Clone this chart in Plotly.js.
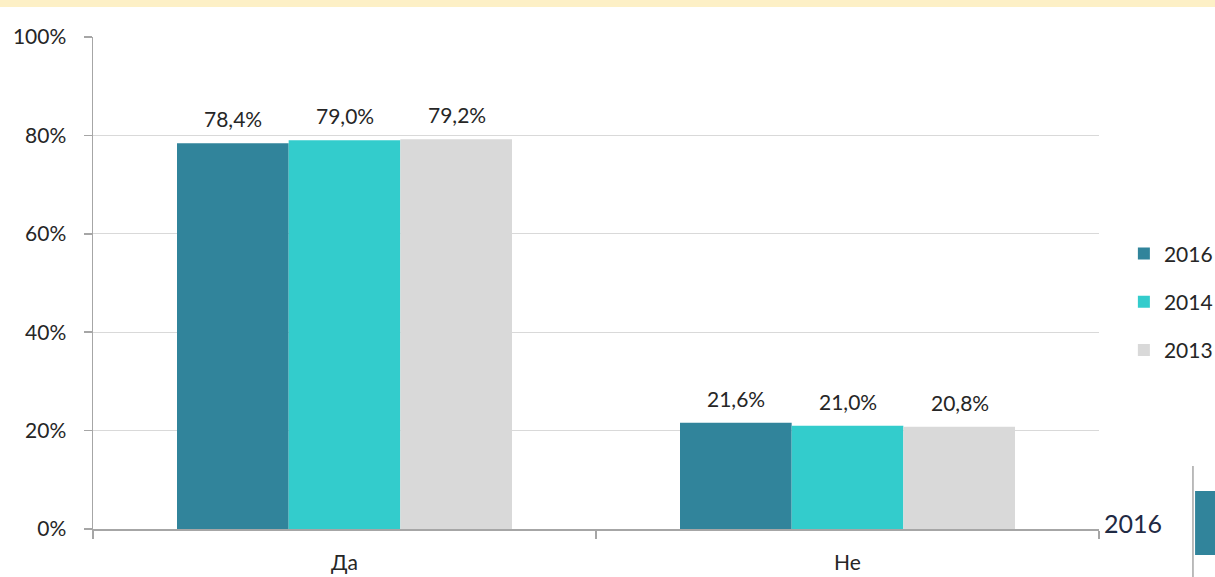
<!DOCTYPE html>
<html>
<head>
<meta charset="utf-8">
<script src="https://cdn.plot.ly/plotly-3.0.1.min.js"></script>
<style>html,body{margin:0;padding:0;background:#fff;}#chart{width:1215px;height:577px;}</style>
</head>
<body>
<div id="chart"></div>
<script>
const categories = ["Да", "Не"];
const seriesNames = ["2016", "2014", "2013"];
const values2016 = [78.4, 21.6];
const values2014 = [79.0, 21.0];
const values2013 = [79.2, 20.8];
const yTickValues = [0, 20, 40, 60, 80, 100];
const yTickLabels = ["0%", "20%", "40%", "60%", "80%", "100%"];
const colors = ["#31849b", "#33cccc", "#d9d9d9"];

const allSeries = [values2016, values2014, values2013];
const fontFam = "Lato, 'Open Sans', 'Noto Sans', sans-serif";
const fmt = v => v.toFixed(1).replace('.', ',') + '%';

const traces = allSeries.map((vals, i) => ({
  type: 'bar',
  name: seriesNames[i],
  x: categories,
  y: vals,
  marker: {color: colors[i], line: {width: 0}},
  legendgroup: 'g' + i,
  hoverinfo: 'x+y+name'
}));

const annotations = [];
allSeries.forEach((vals, i) => {
  vals.forEach((v, j) => {
    annotations.push({
      x: categories[j], y: v, xref: 'x', yref: 'y',
      text: fmt(v), showarrow: false,
      xshift: (i - 1) * 112, yanchor: 'bottom', yshift: 10,
      font: {family: fontFam, size: 21, color: '#262626'}
    });
  });
});
annotations.push({
  xref: 'paper', yref: 'paper', x: 1.002, y: 0.012, xanchor: 'left', yanchor: 'middle',
  text: '2016', showarrow: false, bgcolor: '#ffffff', borderpad: 2,
  font: {family: fontFam, size: 25, color: '#1f2a44'}
});

const layout = {
  width: 1215, height: 577,
  margin: {l: 93, r: 116, t: 37, b: 48},
  paper_bgcolor: '#ffffff', plot_bgcolor: '#ffffff',
  barmode: 'group', bargap: 0.334, bargroupgap: 0,
  font: {family: fontFam, size: 20, color: '#262626'},
  xaxis: {
    type: 'category', showgrid: false, showline: true, linecolor: '#a6a6a6', linewidth: 1.5,
    ticks: 'outside', tickson: 'boundaries', ticklen: 8, tickcolor: '#a6a6a6', tickwidth: 1.5,
    tickfont: {family: fontFam, size: 21, color: '#262626'}, zeroline: false,
    ticklabelstandoff: 14, automargin: false
  },
  yaxis: {
    range: [0, 100], tickvals: yTickValues, ticktext: yTickLabels,
    showgrid: true, gridcolor: '#d9d9d9', gridwidth: 1,
    showline: true, linecolor: '#a6a6a6', linewidth: 1.5,
    ticks: 'outside', ticklen: 8, tickcolor: '#a6a6a6', tickwidth: 1.5,
    tickfont: {family: fontFam, size: 21, color: '#262626'}, zeroline: false,
    ticklabelstandoff: 13, automargin: false
  },
  showlegend: true,
  legend: {
    xref: 'container', yref: 'container',
    x: 0.925, y: 0.477, xanchor: 'left', yanchor: 'middle',
    font: {family: fontFam, size: 21, color: '#262626'},
    tracegroupgap: 18, itemwidth: 30, bgcolor: 'rgba(0,0,0,0)'
  },
  annotations: annotations,
  shapes: [
    {type: 'rect', xref: 'paper', yref: 'paper', x0: -0.1, x1: 1.13, y0: 1.061, y1: 1.08,
     fillcolor: '#fdf0c6', line: {width: 0}, layer: 'above'},
    {type: 'line', xref: 'paper', yref: 'paper', x0: 1.0934, x1: 1.0934, y0: 0.128, y1: -0.1,
     line: {color: '#a6a6a6', width: 1.5}},
    {type: 'rect', xref: 'paper', yref: 'paper', x0: 1.0955, x1: 1.12, y0: 0.0772, y1: -0.0528,
     fillcolor: '#31849b', line: {width: 0}}
  ]
};

Plotly.newPlot('chart', traces, layout, {displayModeBar: false, staticPlot: true});
</script>
</body>
</html>
